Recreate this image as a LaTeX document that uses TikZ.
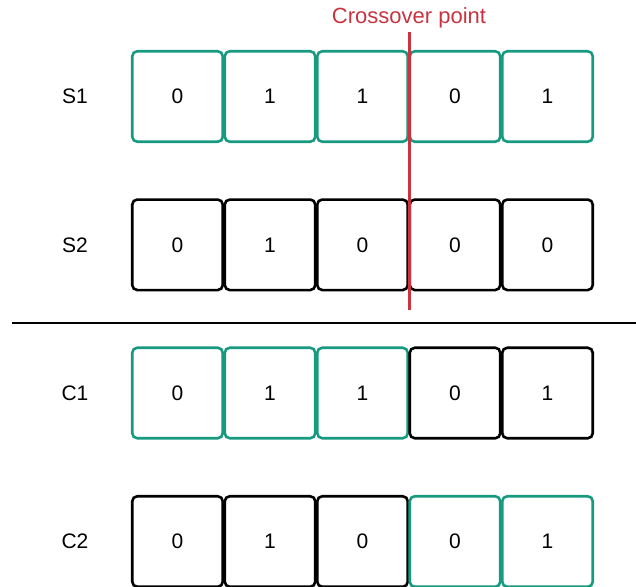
\documentclass[tikz,border=0pt]{standalone}
\usepackage{fontspec}
\setmainfont{Liberation Sans}
\definecolor{parent}{RGB}{24,154,128}
\definecolor{cutred}{RGB}{200,52,64}
\tikzset{
  gene/.style={draw, line width=2.6pt, rounded corners=5pt, minimum size=90.5pt,
    inner sep=0pt, font=\fontsize{21}{24}\selectfont},
  rowlabel/.style={font=\fontsize{21}{24}\selectfont},
}
\begin{document}
\begin{tikzpicture}[x=1pt, y=-1pt]
  \useasboundingbox (0,0) rectangle (636,586);
  % parents
  \node[rowlabel] (S1) at (75,96.5) {S1};
  \foreach \b [count=\i] in {0,1,1,0,1}
    \node[gene, draw=parent] (s1\i) at (85+92.5*\i,96.5) {\b};
  \node[rowlabel] (S2) at (75,244.8) {S2};
  \foreach \b [count=\i] in {0,1,0,0,0}
    \node[gene] (s2\i) at (85+92.5*\i,244.8) {\b};
  % separator
  \coordinate (sepL) at (12,323);
  \coordinate (sepR) at (636,323);
  \draw[line width=2.4pt] (sepL) -- (sepR);
  % children
  \node[rowlabel] (C1) at (75,393) {C1};
  \foreach \b/\c [count=\i] in {0/parent,1/parent,1/parent,0/black,1/black}
    \node[gene, draw=\c] (c1\i) at (85+92.5*\i,393) {\b};
  \node[rowlabel] (C2) at (75,541.5) {C2};
  \foreach \b/\c [count=\i] in {0/black,1/black,0/black,0/parent,1/parent}
    \node[gene, draw=\c] (c2\i) at (85+92.5*\i,541.5) {\b};
  % crossover cut
  \node[text=cutred, font=\fontsize{22}{25}\selectfont] (xlabel) at (409,18) {Crossover point};
  \coordinate (cuttop) at (409,32);
  \coordinate (cutbot) at (409,310);
  \draw[cutred, line width=3pt] (cuttop) -- (cutbot);
\end{tikzpicture}
\end{document}
